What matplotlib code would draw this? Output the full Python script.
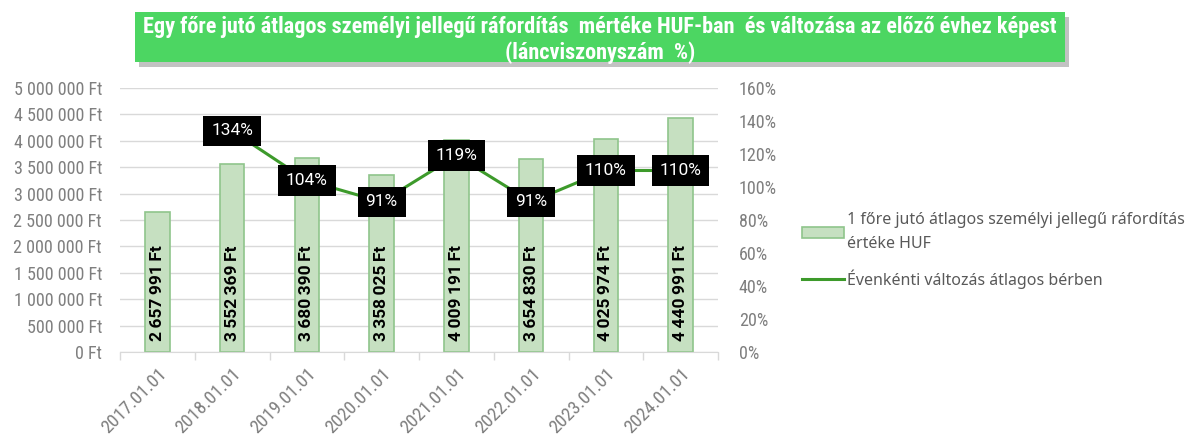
import matplotlib.pyplot as plt
import numpy as np
from matplotlib import font_manager
from matplotlib.patches import FancyBboxPatch, Patch
from matplotlib.lines import Line2D

# adatok
dates = ['2017.01.01', '2018.01.01', '2019.01.01', '2020.01.01',
         '2021.01.01', '2022.01.01', '2023.01.01', '2024.01.01']
cost_huf = [2657991, 3552369, 3680390, 3358025, 4009191, 3654830, 4025974, 4440991]
change_pct = [np.nan, 134, 104, 91, 119, 91, 110, 110]

title = ('Egy főre jutó átlagos személyi jellegű ráfordítás  mértéke HUF-ban  és változása az előző évhez képest\n'
         '(láncviszonyszám  %)')
bar_name = '1 főre jutó átlagos személyi jellegű ráfordítás\nértéke HUF'
line_name = 'Évenkénti változás átlagos bérben'

installed = {f.name for f in font_manager.fontManager.ttflist}


def pick(cands):
    for c in cands:
        if c in installed:
            return [c, 'DejaVu Sans']
    return ['DejaVu Sans']


narrow = pick(['Roboto Condensed', 'Fira Sans Condensed', 'IBM Plex Sans Condensed', 'Archivo Narrow'])
label_font = pick(['Arimo', 'Roboto', 'Liberation Sans'])
plt.rcParams['font.family'] = pick(['Liberation Sans'])

gray = '#7f7f7f'
bar_fill = '#c6e0c1'
bar_edge = '#8fc58b'
line_col = '#3d9a2b'

fig = plt.figure(figsize=(11.95, 4.38), dpi=100)
ax = fig.add_axes([120 / 1195, 86 / 438, 598 / 1195, 264 / 438])
ax2 = ax.twinx()

x = np.arange(len(dates))
ax.bar(x, cost_huf, width=0.33, color=bar_fill, edgecolor=bar_edge, linewidth=1.2, zorder=2)
ax.set_xlim(-0.5, len(dates) - 0.5)
ax.set_ylim(0, 5000000)
ax.set_yticks(np.arange(0, 5000001, 500000))
ax.set_yticklabels([f'{v:,.0f} Ft'.replace(',', ' ') for v in np.arange(0, 5000001, 500000)])
ax.grid(axis='y', color='#d9d9d9', linewidth=1, zorder=0)
ax.set_axisbelow(True)

# kategória tengely, osztások a határokon
ax.set_xticks(x)
ax.set_xticklabels(dates, rotation=45, ha='right', rotation_mode='anchor', color=gray,
                   fontsize=13.5, family=narrow)
ax.tick_params(axis='x', length=0, pad=9)
ax.set_xticks(np.arange(-0.5, len(dates)), minor=True)
ax.tick_params(axis='x', which='minor', length=6, color='#d9d9d9', width=1)
ax.tick_params(axis='y', length=0, labelcolor=gray, labelsize=13, pad=13)
for lab in ax.get_yticklabels():
    lab.set_fontfamily(narrow)

for s in ['top', 'left', 'right']:
    ax.spines[s].set_visible(False)
    ax2.spines[s].set_visible(False)
ax.spines['bottom'].set_color('#d9d9d9')
ax2.spines['bottom'].set_visible(False)

# oszlopcímkék
for xi, v in zip(x, cost_huf):
    s = f'{v:,}'.replace(',', '\u2009') + '\u2009Ft'
    ax.text(xi, 200000, s, rotation=90, ha='center', va='bottom', fontsize=12.5,
            fontweight='bold', family=label_font, color='black', zorder=4)

# változás (%)
ax2.plot(x, change_pct, color=line_col, linewidth=2.2, zorder=3)
ax2.set_ylim(0, 160)
ax2.set_yticks(np.arange(0, 161, 20))
ax2.set_yticklabels([f'{v}%' for v in range(0, 161, 20)])
ax2.tick_params(axis='y', length=0, labelcolor=gray, labelsize=13, pad=15)
for lab in ax2.get_yticklabels():
    lab.set_fontfamily(narrow)
for xi, v in zip(x, change_pct):
    if np.isnan(v):
        continue
    ax2.text(xi, v, f'{v:.0f}%', ha='center', va='center', fontsize=12.5, color='white', zorder=5,
             family=label_font,
             bbox=dict(boxstyle='square,pad=0.45', facecolor='black', edgecolor='none'))

# cím
shadow = FancyBboxPatch((139 / 1195, 1 - 67 / 438), 930 / 1195, 50 / 438, boxstyle='square,pad=0',
                        transform=fig.transFigure, facecolor='#9a9a9a', edgecolor='none', alpha=0.6)
box = FancyBboxPatch((135 / 1195, 1 - 62 / 438), 930 / 1195, 50 / 438, boxstyle='square,pad=0',
                     transform=fig.transFigure, facecolor='#4cd662', edgecolor='none')
fig.patches.extend([shadow, box])
fig.text(600 / 1195, 1 - 40 / 438, title, ha='center', va='center', color='white', fontsize=16,
         fontweight='bold', family=narrow, linespacing=1.2)

# jelmagyarázat
handles = [Patch(facecolor=bar_fill, edgecolor=bar_edge, linewidth=1.2),
           Line2D([0], [0], color=line_col, linewidth=2.2)]
leg = fig.legend(handles, [bar_name, line_name], loc='upper left', bbox_to_anchor=(788 / 1195, 1 - 198 / 438),
                 frameon=False, labelcolor='#595959', handlelength=2.6, handletextpad=0.2,
                 labelspacing=1.1, prop={'family': pick(['Noto Sans']), 'size': 11.5})
leg.get_texts()[0].set_linespacing(1.6)

fig.savefig('out.png', dpi=100)
